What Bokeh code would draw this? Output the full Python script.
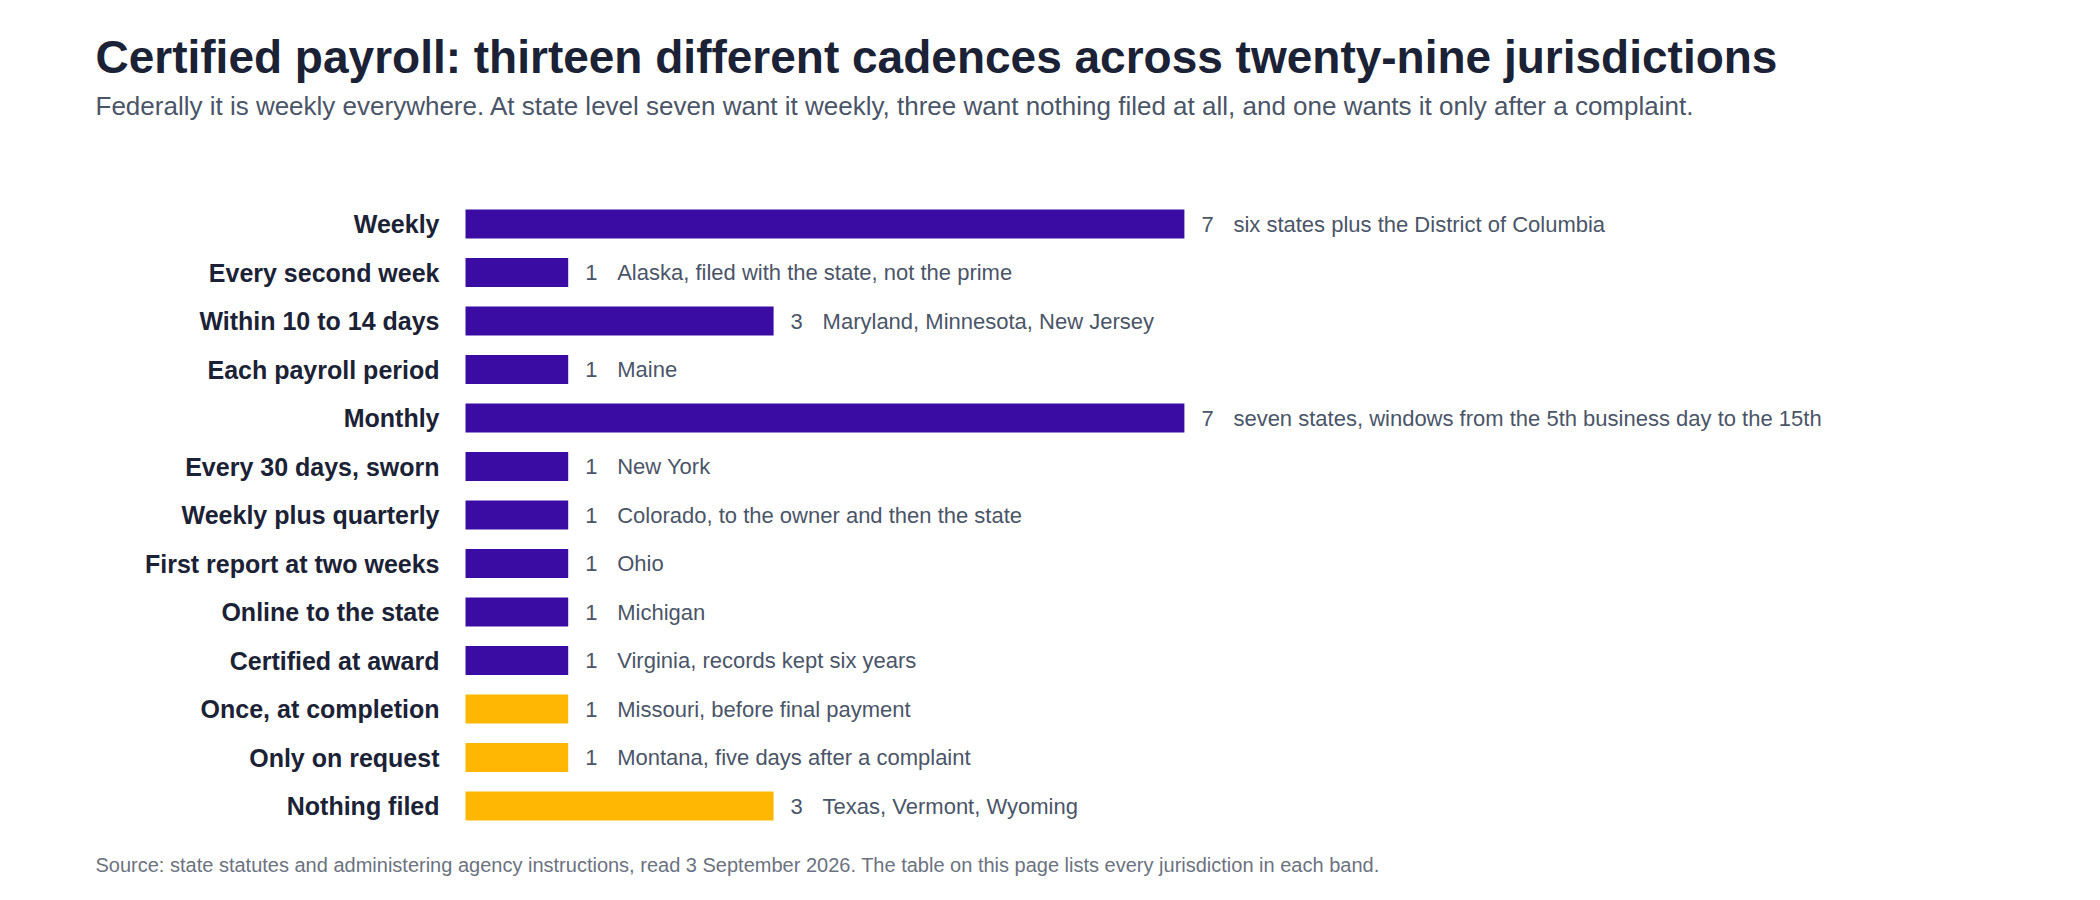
from bokeh.plotting import figure
from bokeh.models import ColumnDataSource, Range1d, Label
from bokeh.embed import file_html
from bokeh.resources import INLINE
from bokeh.core.properties import value

# ---- data ----
categories = [
    "Weekly",
    "Every second week",
    "Within 10 to 14 days",
    "Each payroll period",
    "Monthly",
    "Every 30 days, sworn",
    "Weekly plus quarterly",
    "First report at two weeks",
    "Online to the state",
    "Certified at award",
    "Once, at completion",
    "Only on request",
    "Nothing filed",
]
counts = [7, 1, 3, 1, 7, 1, 1, 1, 1, 1, 1, 1, 3]
notes = [
    "six states plus the District of Columbia",
    "Alaska, filed with the state, not the prime",
    "Maryland, Minnesota, New Jersey",
    "Maine",
    "seven states, windows from the 5th business day to the 15th",
    "New York",
    "Colorado, to the owner and then the state",
    "Ohio",
    "Michigan",
    "Virginia, records kept six years",
    "Missouri, before final payment",
    "Montana, five days after a complaint",
    "Texas, Vermont, Wyoming",
]
kinds = ["recurring"] * 10 + ["not recurring"] * 3

title_text = "Certified payroll: thirteen different cadences across twenty-nine jurisdictions"
subtitle_text = ("Federally it is weekly everywhere. At state level seven want it weekly, "
                 "three want nothing filed at all, and one wants it only after a complaint.")
source_text = ("Source: state statutes and administering agency instructions, read 3 September 2026. "
               "The table on this page lists every jurisdiction in each band.")

# ---- style / layout ----
PURPLE = "#3a0ca3"
AMBER = "#ffb703"
NAVY = "#1b2236"
SLATE = "#4a5568"
GREY = "#6b7280"
FONT = "Liberation Sans"

W, H = 2096, 896
BAR_X0 = 465        # page x of the bars' zero line
PX_PER_UNIT = 102.7 # pixels per jurisdiction
ROW0_Y = 223.5      # page y of the first row's centre
ROW_PX = 48.5       # row pitch in pixels
TEXT_X = 95


def xd(px):
    return (px - BAR_X0) / PX_PER_UNIT


def yd(py):
    return (py - ROW0_Y) / ROW_PX


colors = [PURPLE if k == "recurring" else AMBER for k in kinds]
rows = list(range(len(categories)))
src = ColumnDataSource(dict(
    row=rows,
    cat=categories,
    count=counts,
    count_str=[str(c) for c in counts],
    note=notes,
    color=colors,
    zero=[0] * len(categories),
))

p = figure(
    width=W, height=H,
    x_range=Range1d(xd(0), xd(W)),
    y_range=Range1d(yd(H), yd(0)),   # flipped: first category at the top
    output_backend="svg", toolbar_location=None,
    min_border=0, min_border_left=0, min_border_right=0,
    min_border_top=0, min_border_bottom=0,
)
p.outline_line_color = None
p.background_fill_color = "white"
p.border_fill_color = "white"
p.grid.visible = False
p.axis.visible = False

p.hbar(y="row", left=0, right="count", height=0.6, color="color",
       line_color=None, source=src)

# category labels
p.text(x="zero", y="row", text="cat", x_offset=-26,
       text_baseline="middle", text_align="right",
       text_font=value(FONT), text_font_size="25px", text_font_style="bold",
       text_color=NAVY, source=src)

# value + note labels
p.text(x="count", y="row", text="count_str", x_offset=17,
       text_baseline="middle", text_align="left",
       text_font=value(FONT), text_font_size="22px", text_color=SLATE, source=src)
p.text(x="count", y="row", text="note", x_offset=49,
       text_baseline="middle", text_align="left",
       text_font=value(FONT), text_font_size="22px", text_color=SLATE, source=src)

p.add_layout(Label(x=xd(TEXT_X), y=yd(56.5), text=title_text, text_font=FONT,
                   text_font_size="46px", text_font_style="bold", text_color=NAVY,
                   text_baseline="alphabetic"))
p.add_layout(Label(x=xd(TEXT_X), y=yd(105.5), text=subtitle_text, text_font=FONT,
                   text_font_size="26px", text_color=SLATE,
                   text_baseline="alphabetic"))
p.add_layout(Label(x=xd(TEXT_X), y=yd(864), text=source_text, text_font=FONT,
                   text_font_size="20px", text_color=GREY,
                   text_baseline="alphabetic"))

open("out.html", "w").write(file_html(p, INLINE))
